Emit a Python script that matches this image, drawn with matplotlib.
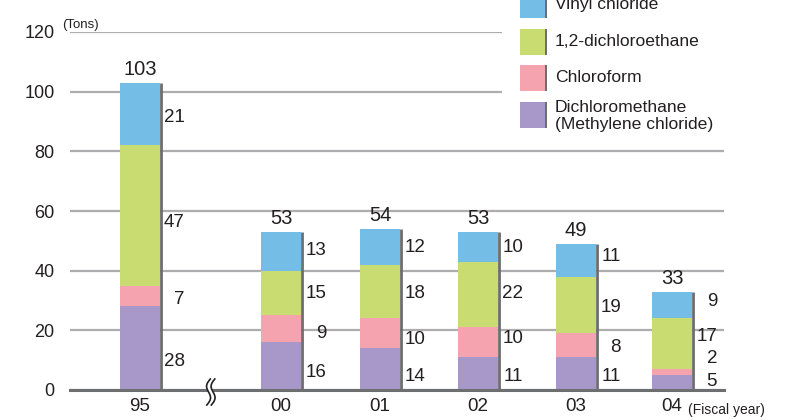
import matplotlib
matplotlib.use("Agg")
import matplotlib.pyplot as plt
import matplotlib.transforms as mtransforms
from matplotlib.patches import Rectangle
import numpy as np

# ---- data (tons per fiscal year) ----
years = ["95", "00", "01", "02", "03", "04"]
dichloromethane = [28, 16, 14, 11, 11, 5]
chloroform = [7, 9, 10, 10, 8, 2]
dichloroethane = [47, 15, 18, 22, 19, 17]
vinyl_chloride = [21, 13, 12, 10, 11, 9]
totals = [103, 53, 54, 53, 49, 33]
series_names = ["Dichloromethane\n(Methylene chloride)", "Chloroform",
                "1,2-dichloroethane", "Vinyl chloride"]
y_ticks = [0, 20, 40, 60, 80, 100, 120]

# ---- style ----
FONT = ["Liberation Sans", "DejaVu Sans"]
plt.rcParams["font.family"] = FONT
colors = ["#A898C9", "#F5A3AE", "#C8DC72", "#74BDE7"]
edge_color = "#6D6E70"
grid_color = "#ADADAF"
text_color = "#231F20"

# x positions: wider gap after the first year marks the break in the time axis
x_pos = np.array([0, 1.44, 2.45, 3.45, 4.45, 5.43])
bar_w = 0.408

# small vertical nudges (data units) for the value labels beside the bars
label_nudge = [
    [-4.6, -2.3, -2.6, -1.1, -1.1, 0.2],
    [-1.3, -1.4, -2.2, 1.1, -0.6, 4.4],
    [-2.2, -0.3, -0.8, 0.2, -1.0, 2.6],
    [-1.0, 0.4, -0.4, -0.4, 1.1, 1.0],
]

W, H = 786, 420
fig = plt.figure(figsize=(W / 100, H / 100), dpi=100)
ax = fig.add_axes([70 / W, 30 / H, 654 / W, 358 / H])
ax.set_xlim(-70 / 98, 584 / 98)
ax.set_ylim(0, 120)

for s in ax.spines.values():
    s.set_visible(False)
ax.set_yticks(y_ticks)
ax.set_yticklabels([str(v) for v in y_ticks], fontsize=13, color=text_color)
ax.set_xticks(x_pos)
ax.set_xticklabels(years, fontsize=13.5, color=text_color)
ax.tick_params(axis="y", length=0, pad=11)
ax.tick_params(axis="x", length=0, pad=6)
ax.grid(axis="y", color=grid_color, lw=1.6)
ax.set_axisbelow(True)
ax.axhline(0, color=edge_color, lw=2.2, zorder=4, clip_on=False)

stack = [dichloromethane, chloroform, dichloroethane, vinyl_chloride]
bottom = np.zeros(len(years))
for k, vals in enumerate(stack):
    vals = np.array(vals, dtype=float)
    ax.bar(x_pos, vals, bar_w, bottom=bottom, color=colors[k], lw=0, zorder=2)
    for i, v in enumerate(vals):
        ax.text(x_pos[i] + bar_w / 2 + 0.255, bottom[i] + v / 2 + label_nudge[k][i],
                f"{int(v)}", ha="right", va="center", fontsize=13.5, color=text_color)
    bottom += vals

# dark shading on the right edge of each bar
ax.vlines(x_pos + bar_w / 2 + 0.01, 0, bottom, color=edge_color, lw=2.0, zorder=3)

for i, t in enumerate(totals):
    ax.annotate(str(t), (x_pos[i], bottom[i]), xytext=(0, 2.5),
                textcoords="offset points", ha="center", va="bottom",
                fontsize=14.5, color=text_color)

# axis break symbol between 95 and 00
xb = (x_pos[0] + x_pos[1]) / 2
bt = fig.dpi_scale_trans + mtransforms.ScaledTranslation(xb, 0, ax.transData)
t = np.linspace(0, 1, 60)
yy = (t - 0.5) * 0.26 - 0.02
xx = 0.028 * np.sin(2 * np.pi * t) + 0.035 * (t - 0.5) - 0.02
ax.fill_betweenx(yy, xx, xx + 0.045, color="white", transform=bt, zorder=5, clip_on=False, lw=0)
for dx in (0, 0.045):
    ax.plot(xx + dx, yy, color=text_color, lw=1.2, transform=bt, zorder=6, clip_on=False)

# unit labels
fig.text(62 / W, 1 - 25 / H, "(Tons)", fontsize=9.5, color=text_color, ha="left", va="center")
fig.text(688 / W, 10 / H, "(Fiscal year)", fontsize=10, color=text_color, ha="left", va="center")

# legend block (white panel hides the upper gridlines)
fig.patches.append(Rectangle((502 / W, 1 - 140 / H), 224 / W, 140 / H,
                             transform=fig.transFigure, facecolor="white",
                             edgecolor="none", zorder=10))
legend_order = [3, 2, 1, 0]
for row, k in enumerate(legend_order):
    top_px = -8 + row * 36.5
    fig.patches.append(Rectangle((520 / W, 1 - (top_px + 26) / H), 25 / W, 26 / H,
                                 transform=fig.transFigure, facecolor=colors[k],
                                 edgecolor="none", zorder=11))
    fig.patches.append(Rectangle((545 / W, 1 - (top_px + 26) / H), 2 / W, 26 / H,
                                 transform=fig.transFigure, facecolor=edge_color,
                                 edgecolor="none", zorder=11))
    if "\n" in series_names[k]:
        fig.text(555 / W, 1 - (top_px - 1) / H, series_names[k], fontsize=12.6,
                 color=text_color, ha="left", va="top", linespacing=1.15, zorder=12)
    else:
        fig.text(555 / W, 1 - (top_px + 13) / H, series_names[k], fontsize=12.6,
                 color=text_color, ha="left", va="center", zorder=12)

fig.savefig("out.png", dpi=100)
